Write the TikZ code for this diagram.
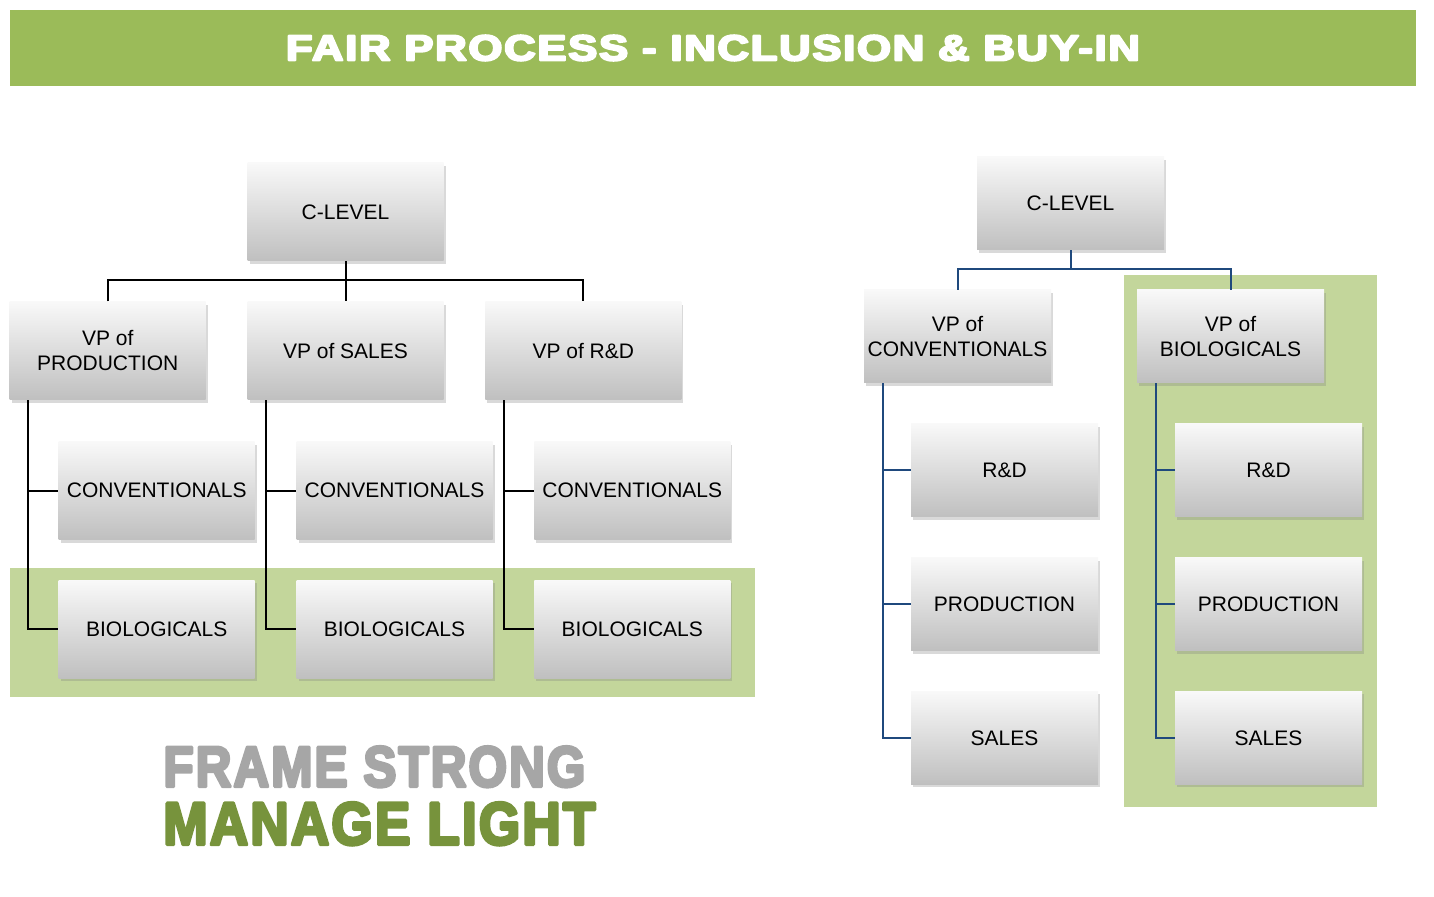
\documentclass[tikz,border=0pt]{standalone}
\usepackage{fontspec}
\setmainfont{Liberation Sans}
\newfontfamily\heavyfont{Liberation Sans}[LetterSpace=4]
\newcommand\heavytext[1]{\special{pdf:literal direct 1 j 2 Tr 0.55 w}#1\special{pdf:literal direct 0 Tr}} % stroke the glyphs to make them heavier
\usepackage{graphicx}
\usepackage{tikz}
\usetikzlibrary{positioning, shadows}
\definecolor{titlegreen}{HTML}{9BBB59}
\definecolor{bandgreen}{HTML}{C3D69B}
\definecolor{textgray}{HTML}{A6A6A6}
\definecolor{textgreen}{HTML}{77933C}
\definecolor{linkblue}{HTML}{1F497D}
\tikzset{
    x=0.5pt, y=-0.5pt, % one unit is one pixel of the layout
    box/.style={rectangle, inner sep=0pt, align=center,
        minimum width=98pt, minimum height=49pt,
        top color=gray!5, bottom color=gray!50,
        drop shadow={opacity=0.3, shadow xshift=1pt, shadow yshift=-1.5pt},
        font=\fontsize{10.5pt}{12.5pt}\selectfont}, % the grey org chart boxes
    smallbox/.style={box, minimum width=93.5pt, minimum height=46.5pt}, % right chart is a bit smaller
    titlebar/.style={fill=titlegreen, text=white, inner sep=0pt,
        minimum width=703pt, minimum height=38pt},
    link/.style={line width=1pt, black},
    bluelink/.style={line width=1pt, linkblue},
}

\begin{document}
\begin{tikzpicture}
    \useasboundingbox (0,0) rectangle (1434,897);
    \node[titlebar] (title) at (713,48) {\resizebox{427pt}{12.6pt}{\heavyfont\bfseries\heavytext{FAIR PROCESS - INCLUSION \& BUY-IN}}};

    % highlighted bands
    \fill[bandgreen] (10,568) rectangle (755,697);
    \fill[bandgreen] (1124,275) rectangle (1377,807);

    % left chart
    \node[box] (cl) at (345.5,212) {C-LEVEL};
    \node[box, below=20pt of cl] (vps) {VP of SALES};
    \node[box, left=20.5pt of vps] (vpp) {VP of\\PRODUCTION};
    \node[box, right=20.5pt of vps] (vpr) {VP of R\&D};
    \node[box, below=20.5pt of vpp, xshift=24.5pt] (cp) {CONVENTIONALS};
    \node[box, below=20.5pt of vps, xshift=24.5pt] (cs) {CONVENTIONALS};
    \node[box, below=20.5pt of vpr, xshift=24.5pt] (cr) {CONVENTIONALS};
    \node[box, below=20pt of cp] (bp) {BIOLOGICALS};
    \node[box, below=20pt of cs] (bs) {BIOLOGICALS};
    \node[box, below=20pt of cr] (br) {BIOLOGICALS};
    \draw[link] (vpp.north) -- ++(0,-21) -| (vpr.north);
    \draw[link] (cl.south) -- (vps.north);
    \draw[link] ([xshift=9.5pt]vpp.south west) |- (cp.west);
    \draw[link] ([xshift=9.5pt]vpp.south west) |- (bp.west);
    \draw[link] ([xshift=9.5pt]vps.south west) |- (cs.west);
    \draw[link] ([xshift=9.5pt]vps.south west) |- (bs.west);
    \draw[link] ([xshift=9.5pt]vpr.south west) |- (cr.west);
    \draw[link] ([xshift=9.5pt]vpr.south west) |- (br.west);

    % right chart
    \node[smallbox] (rcl) at (1070.5,203.5) {C-LEVEL};
    \node[smallbox] (rvc) at (957.5,336.5) {VP of\\CONVENTIONALS};
    \node[smallbox] (rvb) at (1230.5,336.5) {VP of\\BIOLOGICALS};
    \node[smallbox, below=20pt of rvc, xshift=23.5pt] (crd) {R\&D};
    \node[smallbox, below=20pt of crd] (cpr) {PRODUCTION};
    \node[smallbox, below=20pt of cpr] (csa) {SALES};
    \node[smallbox, below=20pt of rvb, xshift=19pt] (brd) {R\&D};
    \node[smallbox, below=20pt of brd] (bpr) {PRODUCTION};
    \node[smallbox, below=20pt of bpr] (bsa) {SALES};
    \draw[bluelink] (rvc.north) -- ++(0,-21) -| (rvb.north);
    \draw[bluelink] (rcl.south) -- ++(0,19);
    \draw[bluelink] ([xshift=9.5pt]rvc.south west) |- (crd.west);
    \draw[bluelink] ([xshift=9.5pt]rvc.south west) |- (cpr.west);
    \draw[bluelink] ([xshift=9.5pt]rvc.south west) |- (csa.west);
    \draw[bluelink] ([xshift=9.5pt]rvb.south west) |- (brd.west);
    \draw[bluelink] ([xshift=9.5pt]rvb.south west) |- (bpr.west);
    \draw[bluelink] ([xshift=9.5pt]rvb.south west) |- (bsa.west);

    % motto
    \node[anchor=base west, inner sep=0pt, text=textgray] (frame) at (163,786.5) {\resizebox{211pt}{20pt}{\heavyfont\bfseries\heavytext{FRAME STRONG}}};
    \node[anchor=base west, inner sep=0pt, text=textgreen] (manage) at (163,844.5) {\resizebox{216pt}{21pt}{\heavyfont\bfseries\heavytext{MANAGE LIGHT}}};
\end{tikzpicture}
\end{document}
